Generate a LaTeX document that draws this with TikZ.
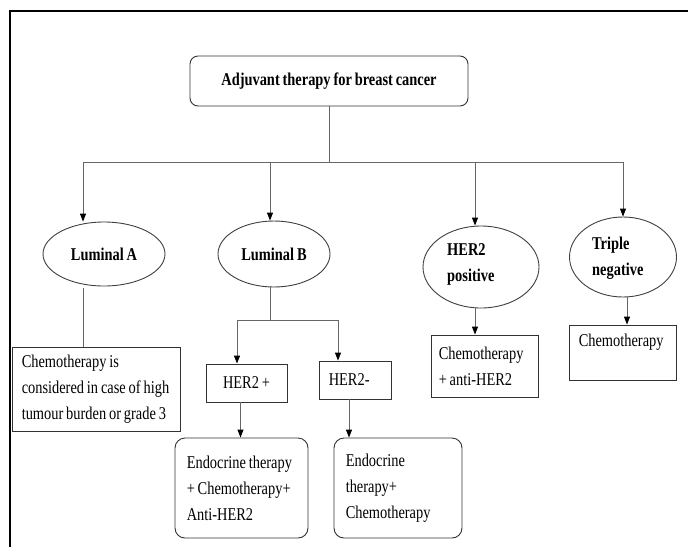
\documentclass[tikz,border=0pt]{standalone}
\usepackage{fontspec}
\setmainfont{Liberation Serif}[FakeStretch=0.8,WordSpace=0.8]
\usetikzlibrary{arrows.meta,shapes.geometric}
\begin{document}
\begin{tikzpicture}[x=1pt,y=-1pt,
  every node/.style={font=\fontsize{18}{26}\selectfont},
  conn/.style={draw=black!60, line width=0.9pt},
  arr/.style={conn, -{Triangle[length=8pt,width=6pt,color=black]}},
  sqbox/.style={draw=black!80, line width=0.9pt, fill=white, inner sep=0pt, align=left},
  rbox/.style={sqbox, rounded corners=10pt},
  oval/.style={ellipse, draw=black!75, line width=0.9pt, fill=white, inner sep=0pt, align=left, font=\fontsize{18}{26}\selectfont\bfseries},
  olabel/.style={inner sep=0pt, align=left, anchor=west, font=\fontsize{18}{26}\selectfont\bfseries},
  blabel/.style={inner sep=0pt, align=left, anchor=west},
]
\useasboundingbox (0,0) rectangle (688,547);
\fill[white] (0,0) rectangle (688,547);
% frame
\draw[line width=2.5pt] (10,547) -- (10,11) -- (688,11);

% title
\node[sqbox, rounded corners=8pt, minimum width=278pt, minimum height=50pt, align=center, font=\fontsize{18}{26}\selectfont\bfseries] (title) at (329,81) {Adjuvant therapy for breast cancer};

% ellipses
\node[oval, minimum width=122pt, minimum height=64pt] (lumA) at (104,254) {Luminal A};
\node[oval, minimum width=112pt, minimum height=66pt] (lumB) at (274,254) {Luminal B};
\node[oval, minimum width=116pt, minimum height=82pt] (her2p) at (481,267) {};
\node[olabel] (her2ptext) at (447,264) {HER2\\positive};
\node[oval, minimum width=107pt, minimum height=80pt] (tn) at (623,257) {};
\node[olabel] (tntitle) at (592,258) {Triple\\negative};

% boxes
\node[sqbox, minimum width=168pt, minimum height=84pt] (lumAbox) at (96,389) {};
\node[blabel] (lumAtext) at ([xshift=10pt]lumAbox.west) {Chemotherapy is\\considered in case of high\\tumour burden or grade 3};
\node[sqbox, minimum width=81pt, minimum height=38pt, align=center] (her2plus) at (246.5,383) {HER2 +};
\node[sqbox, minimum width=72pt, minimum height=38pt] (her2minus) at (355,380) {};
\node[blabel] (her2mtext) at ([xshift=10pt]her2minus.west) {HER2-};
\node[rbox, minimum width=133pt, minimum height=100pt] (endo1) at (241.5,488) {};
\node[blabel] (endo1text) at ([xshift=12pt]endo1.west) {Endocrine therapy\\+ Chemotherapy+\\Anti-HER2};
\node[rbox, minimum width=128pt, minimum height=100pt] (endo2) at (398,488) {};
\node[blabel] (endo2text) at ([xshift=12pt]endo2.west) {Endocrine\\therapy+\\Chemotherapy};
\node[sqbox, minimum width=107pt, minimum height=62pt] (hpbox) at (484.5,366) {};
\node[blabel] (hptext) at ([xshift=8pt]hpbox.west) {Chemotherapy\\+ anti-HER2};
\node[sqbox, minimum width=107pt, minimum height=55pt] (tnbox) at (622.5,352.5) {};
\node[inner sep=0pt, anchor=north west] (tntext) at ([xshift=10pt,yshift=-9pt]tnbox.north west) {Chemotherapy};

% connectors
\coordinate (bA) at (83,162);
\coordinate (bB) at (270,162);
\coordinate (bH) at (475,162);
\coordinate (bT) at (623,162);
\draw[conn] (title.south) -- (title.south |- bA);
\draw[conn] (bA) -- (bT);
\draw[arr] (bA) -- (bA |- lumA.north);
\draw[arr] (bB) -- (bB |- lumB.north);
\draw[arr] (bH) -- (bH |- her2p.north);
\draw[arr] (bT) -- (bT |- tn.north);

\draw[conn, shorten <=2pt] (lumA.south -| bA) -- (lumAbox.north -| bA);

\coordinate (bLB) at (270,320);
\coordinate (bp) at (237,320);
\coordinate (bm) at (338,320);
\draw[conn] (lumB.south -| bLB) -- (bLB);
\draw[conn] (bp) -- (bm);
\draw[arr] (bp) -- (bp |- her2plus.north);
\draw[arr] (bm) -- (bm |- her2minus.north);
\draw[arr] ([xshift=-6pt]her2plus.south) -- ([xshift=-6pt]her2plus.south |- endo1.north);
\draw[arr] ([xshift=-6pt]her2minus.south) -- ([xshift=-6pt]her2minus.south |- endo2.north);
\draw[arr] ([xshift=-6pt]her2p.south) -- ([xshift=-6pt]her2p.south |- hpbox.north);
\draw[arr] ([xshift=4pt]tn.south) -- ([xshift=4pt]tn.south |- tnbox.north);
\end{tikzpicture}
\end{document}
